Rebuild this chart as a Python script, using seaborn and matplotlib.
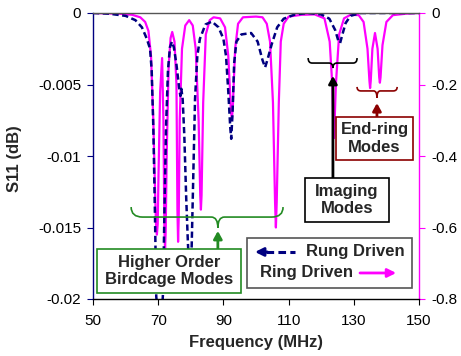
import matplotlib
matplotlib.use("Agg")
import matplotlib.pyplot as plt
import seaborn as sns
from matplotlib.path import Path
from matplotlib.patches import PathPatch, Rectangle

sns.set_style("ticks")
plt.rcParams['font.family'] = ['Liberation Sans', 'DejaVu Sans']
plt.rcParams['axes.unicode_minus'] = False

# Rung driven (left axis, dB)
rung_freq = [50, 55, 60, 63, 65, 66.5, 67.5, 68.0, 68.5, 69.0, 69.4, 70.0, 71.0, 71.5,
             71.9, 72.4, 73.0, 73.6, 74.2, 74.8, 75.6, 76.4, 76.8, 77.1, 77.5, 78.0,
             78.6, 79.1, 79.7, 80.2, 80.7, 81.3, 82.0, 82.8, 84.5, 86.5, 88.5, 90.0,
             90.8, 91.5, 92.1, 92.4, 92.8, 93.3, 94.0, 95.5, 98.5, 100.5, 102.0, 102.8,
             103.6, 104.8, 106.5, 108.5, 112, 116, 120, 122.5, 124.3, 125.2, 125.8,
             126.5, 127.5, 129, 132, 140, 150]
rung_s11 = [0, -0.00005, -0.0002, -0.0005, -0.0010, -0.0018, -0.0025, -0.004, -0.008,
            -0.014, -0.0198, -0.0215, -0.0215, -0.0195, -0.014, -0.008, -0.004, -0.0024,
            -0.0020, -0.0024, -0.0036, -0.0052, -0.0058, -0.0053, -0.0060, -0.0085,
            -0.0130, -0.0160, -0.0190, -0.0170, -0.0120, -0.0060, -0.0030, -0.0018,
            -0.0008, -0.0006, -0.0010, -0.0018, -0.0030, -0.0055, -0.0080, -0.0088,
            -0.0070, -0.0035, -0.0020, -0.0015, -0.0014, -0.0020, -0.0033, -0.0038,
            -0.0032, -0.0022, -0.0010, -0.0004, -0.0001, 0, -0.0001, -0.0004, -0.0012,
            -0.0019, -0.0021, -0.0015, -0.0007, -0.0002, 0, 0, 0]

# Ring driven (right axis)
ring_freq = [50, 58, 62, 64.5, 66, 67, 67.8, 68.5, 69.1, 69.35, 69.6, 69.85, 70.1, 70.6,
             71.2, 71.6, 71.9, 72.1, 72.3, 72.6, 73.2, 73.8, 74.3, 75.0, 75.6, 75.9,
             76.1, 76.3, 76.6, 77.3, 78.3, 79.5, 80.6, 81.5, 82.4, 82.9, 83.1, 83.3,
             83.8, 84.6, 85.8, 87, 89, 90.5, 91.5, 92.3, 92.6, 92.9, 93.6, 94.5, 96, 100,
             102.0, 103.3, 104.3, 105.2, 105.85, 106.1, 106.35, 107.0, 107.6, 108.5, 110,
             114, 118, 121, 122.6, 123.4, 123.7, 123.9, 124.1, 124.5, 125.5, 127, 129,
             131.5, 133, 134.2, 134.8, 135.0, 135.2, 135.7, 136.5, 137.3, 137.8, 138.0,
             138.2, 138.8, 140, 142, 146, 150]
ring_s11 = [0, -0.002, -0.005, -0.012, -0.025, -0.05, -0.12, -0.30, -0.52, -0.595, -0.62,
            -0.59, -0.45, -0.22, -0.126, -0.30, -0.60, -0.66, -0.61, -0.40, -0.15, -0.07,
            -0.053, -0.08, -0.20, -0.55, -0.64, -0.57, -0.30, -0.10, -0.035, -0.02,
            -0.035, -0.10, -0.30, -0.51, -0.55, -0.51, -0.25, -0.06, -0.02, -0.012,
            -0.015, -0.04, -0.12, -0.27, -0.30, -0.26, -0.10, -0.03, -0.012, -0.01,
            -0.012, -0.03, -0.08, -0.25, -0.53, -0.60, -0.53, -0.25, -0.08, -0.03, -0.01,
            -0.005, -0.004, -0.015, -0.08, -0.2, -0.31, -0.35, -0.31, -0.2, -0.06,
            -0.015, -0.005, -0.006, -0.025, -0.10, -0.19, -0.21, -0.19, -0.10, -0.056,
            -0.10, -0.18, -0.195, -0.18, -0.09, -0.025, -0.006, -0.002, 0]

x_ticks = [50, 70, 90, 110, 130, 150]
left_ticks = [0, -0.005, -0.01, -0.015, -0.02]
left_labels = ['0', '-0.005', '-0.01', '-0.015', '-0.02']
right_ticks = [0, -0.2, -0.4, -0.6, -0.8]
right_labels = ['0', '-0.2', '-0.4', '-0.6', '-0.8']

NAVY = '#000080'
MAGENTA = '#FF00FF'
GREEN = '#238B23'
DARKRED = '#8B0000'

W, H = 461, 356
fig = plt.figure(figsize=(W / 100, H / 100), dpi=100)
ax = fig.add_axes([93 / W, 1 - 299 / H, 326 / W, 286 / H])
ax2 = ax.twinx()

sns.lineplot(x=ring_freq, y=ring_s11, ax=ax2, color=MAGENTA, linewidth=1.6)
sns.lineplot(x=rung_freq, y=rung_s11, ax=ax, color=NAVY, linewidth=1.8,
             linestyle=(0, (2.5, 1.4)))

ax.set_xlim(50, 150)
ax.set_ylim(-0.02, 0)
ax2.set_ylim(-0.8, 0)
ax.set_xticks(x_ticks)
ax.set_xticklabels([str(t) for t in x_ticks])
ax.set_yticks(left_ticks)
ax.set_yticklabels(left_labels)
ax2.set_yticks(right_ticks)
ax2.set_yticklabels(right_labels)
ax.set_xlabel('')
ax.set_ylabel('')
ax2.set_ylabel('')

ax.set_zorder(ax2.get_zorder() + 1)
ax.patch.set_visible(False)

for s in ['left', 'top', 'bottom']:
    ax2.spines[s].set_visible(False)
ax.spines['right'].set_visible(False)
ax.spines['left'].set_color(NAVY)
ax.spines['bottom'].set_color('black')
ax.spines['top'].set_color('#555555')
ax2.spines['right'].set_color(MAGENTA)
for sp in list(ax.spines.values()) + [ax2.spines['right']]:
    sp.set_linewidth(1.0)

ax.tick_params(axis='y', colors=NAVY, labelcolor='black', direction='out',
               length=4.5, labelsize=11, pad=4)
ax.tick_params(axis='x', colors='black', direction='out', length=4,
               labelsize=11, pad=7)
ax2.tick_params(axis='y', colors=MAGENTA, labelcolor='black', direction='out',
                length=4, labelsize=11, pad=5)

fig.text(256 / W, 1 - 343 / H, 'Frequency (MHz)', ha='center', va='center',
         fontsize=12, fontweight='bold')
fig.text(15 / W, 1 - 159 / H, 'S11 (dB)', ha='center', va='center',
         fontsize=12, fontweight='bold', rotation=90)


def brace(x0, x1, xc, yt, ym, yb, rend, rtip, color):
    verts = [(x0, yt), (x0, ym), (x0 + rend, ym),
             (xc - rtip, ym),
             (xc, ym), (xc, yb),
             (xc, ym), (xc + rtip, ym),
             (x1 - rend, ym),
             (x1, ym), (x1, yt)]
    codes = [Path.MOVETO, Path.CURVE3, Path.CURVE3, Path.LINETO,
             Path.CURVE3, Path.CURVE3, Path.CURVE3, Path.CURVE3,
             Path.LINETO, Path.CURVE3, Path.CURVE3]
    ax.add_patch(PathPatch(Path(verts, codes), facecolor='none', edgecolor=color,
                           linewidth=1.2, zorder=6))


def up_arrow(x, y0, y1, color):
    ax.annotate('', xy=(x, y1), xytext=(x, y0),
                arrowprops=dict(arrowstyle='-|>,head_length=0.45,head_width=0.25',
                                color=color, lw=2, shrinkA=0, shrinkB=0), zorder=6)


def box(x0, x1, y0, y1, color, lines, fs=12):
    ax.add_patch(Rectangle((x0, y0), x1 - x0, y1 - y0, facecolor='white',
                           edgecolor=color, linewidth=1.2, zorder=7))
    ax.text((x0 + x1) / 2, (y0 + y1) / 2, lines, ha='center', va='center',
            fontsize=fs, fontweight='bold', linespacing=1.2, zorder=8)


# Higher order birdcage modes
brace(61.7, 108.3, 88.3, -0.01357, -0.01427, -0.01503, 3.5, 2.0, GREEN)
up_arrow(88.3, -0.0165, -0.01524, GREEN)
box(51.2, 95.4, -0.01958, -0.0165, GREEN, 'Higher Order\nBirdcage Modes')

# Imaging modes
brace(116.0, 131.0, 123.6, -0.00315, -0.0035, -0.00385, 1.2, 1.2, 'black')
up_arrow(123.6, -0.01154, -0.0044, 'black')
box(115.0, 140.8, -0.01462, -0.01154, 'black', 'Imaging\nModes')

# End-ring modes
brace(131.0, 143.3, 137.1, -0.00517, -0.00545, -0.00594, 1.2, 1.0, DARKRED)
up_arrow(137.1, -0.00727, -0.0063, DARKRED)
box(124.5, 148.2, -0.01028, -0.00727, DARKRED, 'End-ring\nModes')

# Legend-like box
ax.add_patch(Rectangle((97.2, -0.01923), 147.9 - 97.2, 0.0035, facecolor='white',
                       edgecolor='#555555', linewidth=1.2, zorder=7))
ax.plot([103.0, 112.0], [-0.01671, -0.01671], color=NAVY, lw=2.2,
        linestyle=(0, (2.5, 1.4)), zorder=8)
ax.annotate('', xy=(99.7, -0.01671), xytext=(103.5, -0.01671),
            arrowprops=dict(arrowstyle='-|>,head_length=0.5,head_width=0.25',
                            color=NAVY, lw=2, shrinkA=0, shrinkB=0), zorder=8)
ax.text(145.7, -0.01671, 'Rung Driven', ha='right', va='center', fontsize=12,
        fontweight='bold', zorder=8)
ax.text(101.2, -0.01818, 'Ring Driven', ha='left', va='center', fontsize=12,
        fontweight='bold', zorder=8)
ax.annotate('', xy=(143.0, -0.01818), xytext=(131.9, -0.01818),
            arrowprops=dict(arrowstyle='-|>,head_length=0.5,head_width=0.25',
                            color=MAGENTA, lw=2, shrinkA=0, shrinkB=0), zorder=8)

fig.savefig('out.png', dpi=100)
